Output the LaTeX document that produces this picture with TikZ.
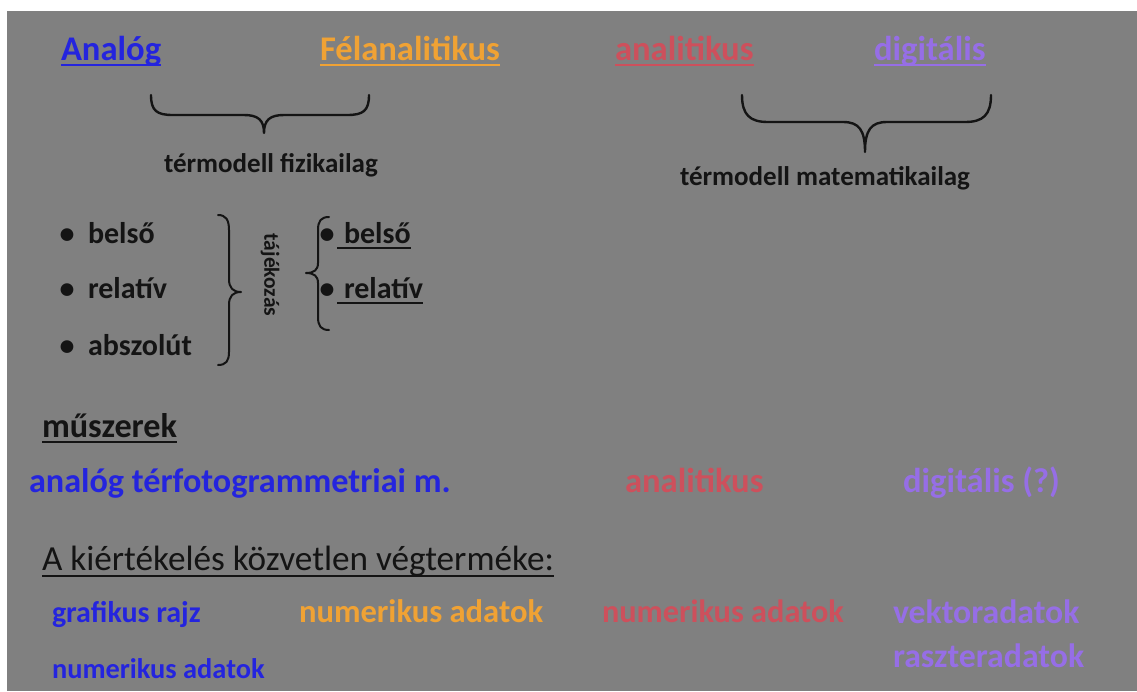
\documentclass[tikz,border=0pt]{standalone}
\usepackage{fontspec}
\setmainfont{Carlito}
\definecolor{bgC}{RGB}{128,128,128}
\definecolor{blueC}{RGB}{36,36,222}
\definecolor{orangeC}{RGB}{240,162,52}
\definecolor{redC}{RGB}{205,80,92}
\definecolor{violetC}{RGB}{150,110,230}
\definecolor{inkC}{RGB}{20,20,20}
\begin{document}
\begin{tikzpicture}[x=1pt,y=-1pt,
  txt/.style={inner sep=0pt,outer sep=0pt,anchor=base west},
  big/.style={font=\fontsize{34.6}{35}\selectfont\bfseries},
  mid/.style={font=\fontsize{27}{27}\selectfont\bfseries,text=inkC},
  bul/.style={font=\fontsize{30}{30}\selectfont\bfseries,text=inkC},
  ul/.style={line width=2pt},
  brace/.style={draw=inkC,line width=2.4pt,line cap=round,line join=round}]
\useasboundingbox (0,0) rectangle (1137,691);
\fill[white] (0,0) rectangle (1137,691);
\fill[bgC] (7,11) rectangle (1137,691);

% header row
\node[txt,big,text=blueC] (analog) at (61,60) {Analóg};
\node[txt,big,text=orangeC] (felan) at (320,60) {Félanalitikus};
\node[txt,big,text=redC] (anal1) at (615,60) {analitikus};
\node[txt,big,text=violetC] (digi1) at (874,60) {digitális};
\draw[ul,blueC] ([yshift=-5pt]analog.base west) -- ([yshift=-5pt]analog.base east);
\draw[ul,orangeC] ([yshift=-5pt]felan.base west) -- ([yshift=-5pt]felan.base east);
\draw[ul,redC] ([yshift=-5pt]anal1.base west) -- ([yshift=-5pt]anal1.base east);
\draw[ul,violetC] ([yshift=-5pt]digi1.base west) -- ([yshift=-5pt]digi1.base east);

% horizontal braces
\draw[brace] (151,95) .. controls (151,111) and (157,115) .. (173,115) -- (244,115)
  .. controls (258,115) and (264,120) .. (264,133)
  .. controls (264,120) and (270,115) .. (284,115) -- (347,115)
  .. controls (363,115) and (369,111) .. (369,95);
\draw[brace] (742,95) .. controls (742,115) and (750,122) .. (768,122) -- (843,122)
  .. controls (859,122) and (865,130) .. (865,152)
  .. controls (865,130) and (871,122) .. (887,122) -- (965,122)
  .. controls (983,122) and (991,115) .. (991,95);
\node[txt,mid] (tfiz) at (164,172) {térmodell fizikailag};
\node[txt,mid] (tmat) at (680,185) {térmodell matematikailag};

% bullet list
\node[bul,inner sep=0pt,anchor=base] (dot1) at (67,243) {•};
\node[bul,inner sep=0pt,anchor=base] (dot2) at (67,298) {•};
\node[bul,inner sep=0pt,anchor=base] (dot3) at (67,355) {•};
\node[txt,bul] (belso1) at (88,243) {belső};
\node[txt,bul] (rel1) at (88,298) {relatív};
\node[txt,bul] (absz) at (88,355) {abszolút};

\draw[brace,line width=2pt] (218,215) .. controls (226,215) and (229,220) .. (229,230) -- (229,279)
  .. controls (229,288) and (233,292) .. (241,292)
  .. controls (233,292) and (229,296) .. (229,305) -- (229,352)
  .. controls (229,361) and (226,365) .. (218,365);
\node[rotate=-90,inner sep=0pt,font=\fontsize{21.5}{22}\selectfont\bfseries,text=inkC] (taj) at (270,275) {tájékozás};
\draw[brace,line width=2pt] (329,217) .. controls (321,217) and (318,221) .. (318,230) -- (318,263)
  .. controls (318,270) and (314,273) .. (306,273)
  .. controls (314,273) and (318,276) .. (318,283) -- (318,317)
  .. controls (318,326) and (321,330) .. (329,330);
\node[bul,inner sep=0pt,anchor=base] (dot4) at (327,243) {•};
\node[bul,inner sep=0pt,anchor=base] (dot5) at (327,298) {•};
\node[txt,bul] (belso2) at (344,243) {belső};
\node[txt,bul] (rel2) at (344,298) {relatív};
\draw[ul,inkC] ([xshift=-7pt,yshift=-5pt]belso2.base west) -- ([yshift=-5pt]belso2.base east);
\draw[ul,inkC] ([xshift=-7pt,yshift=-5pt]rel2.base west) -- ([yshift=-5pt]rel2.base east);

% muszerek
\node[txt,text=inkC,font=\fontsize{34.2}{35}\selectfont\bfseries] (musz) at (42,437) {műszerek};
\draw[ul,inkC] ([yshift=-5pt]musz.base west) -- ([yshift=-5pt]musz.base east);
\node[txt,text=blueC,font=\fontsize{34.2}{35}\selectfont\bfseries] (atm) at (29,492) {analóg térfotogrammetriai m.};
\node[txt,big,text=redC] (anal2) at (625,492) {analitikus};
\node[txt,big,text=violetC] (digi2) at (903,492) {digitális (?)};

% vegtermek
\node[txt,text=inkC,font=\fontsize{35.2}{36}\selectfont] (kiert) at (42,570) {A kiértékelés közvetlen végterméke:};
\draw[ul,inkC] ([yshift=-6pt]kiert.base west) -- ([yshift=-6pt]kiert.base east);
\node[txt,text=blueC,font=\fontsize{30}{30}\selectfont\bfseries] (graf) at (52,622) {grafikus rajz};
\node[txt,text=orangeC,font=\fontsize{32.6}{33}\selectfont\bfseries] (num2) at (299,622) {numerikus adatok};
\node[txt,text=redC,font=\fontsize{32.3}{33}\selectfont\bfseries] (num3) at (602,622) {numerikus adatok};
\node[txt,text=violetC,font=\fontsize{33.8}{34}\selectfont\bfseries] (vekt) at (893,623) {vektoradatok};
\node[txt,text=violetC,font=\fontsize{33.8}{34}\selectfont\bfseries] (raszt) at (893,667) {raszteradatok};
\node[txt,text=blueC,font=\fontsize{28.4}{29}\selectfont\bfseries] (num1) at (52,678) {numerikus adatok};
\end{tikzpicture}
\end{document}
